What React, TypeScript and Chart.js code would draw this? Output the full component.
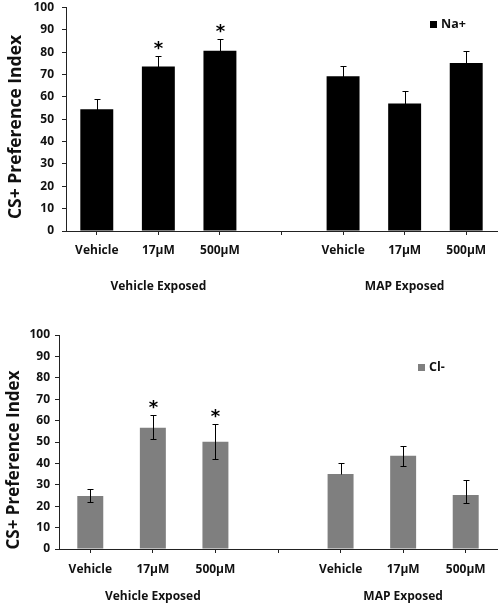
import React, { useEffect, useRef } from "react";
import { Chart, registerables } from "chart.js";

Chart.register(...registerables);

// ---- data ----
const categories = ["Vehicle", "17μM", "500μM", "", "Vehicle", "17μM", "500μM"];
const groupLabels = ["Vehicle Exposed", "MAP Exposed"];
const groupCenterIndex = [1, 5];
const yTicks = [0, 10, 20, 30, 40, 50, 60, 70, 80, 90, 100];
const yTitle = "CS+ Preference Index";

const naLabel = "Na+";
const naValues = [54.5, 73.6, 80.7, null, 69.2, 57.0, 75.2];
const naErrorsUp = [4.5, 4.5, 5.0, null, 4.5, 5.7, 5.3];
const naErrorsDown = [4.5, 4.5, 5.0, null, 4.5, 5.7, 5.3];
const naSignificant = [false, true, true, false, false, false, false];

const clLabel = "Cl-";
const clValues = [24.8, 56.7, 50.1, null, 35.0, 43.6, 25.2];
const clErrorsUp = [3.1, 5.8, 8.4, null, 5.3, 4.4, 7.0];
const clErrorsDown = [2.7, 5.5, 8.1, null, 0, 4.8, 3.7];
const clSignificant = [false, true, true, false, false, false, false];

const FONT = "'Open Sans', Lato, sans-serif";

const overlayPlugin = {
  id: "overlay",
  afterDatasetsDraw(chart: any, _a: any, opts: any) {
    const ctx = chart.ctx;
    const y = chart.scales.y;
    const meta = chart.getDatasetMeta(0);
    const ds = chart.data.datasets[0];
    ctx.save();
    ctx.strokeStyle = "#000";
    ctx.lineWidth = 1;
    opts.errorsUp.forEach((eu: number | null, i: number) => {
      const v = ds.data[i];
      const ed = opts.errorsDown[i];
      if (v == null || eu == null) return;
      const bar = meta.data[i];
      const cx = Math.round(bar.x) + 0.5;
      const yt = Math.round(y.getPixelForValue(v + eu)) + 0.5;
      const yb = Math.round(y.getPixelForValue(v - (ed || 0))) + 0.5;
      ctx.beginPath();
      ctx.moveTo(cx, yt);
      ctx.lineTo(cx, yb);
      ctx.moveTo(cx - 3, yt);
      ctx.lineTo(cx + 3, yt);
      if (ed) {
        ctx.moveTo(cx - 3, yb);
        ctx.lineTo(cx + 3, yb);
      }
      ctx.stroke();
      if (opts.significant[i]) {
        ctx.fillStyle = "#000";
        ctx.font = `bold 18px 'DejaVu Sans'`;
        ctx.textAlign = "center";
        ctx.textBaseline = "alphabetic";
        const m = ctx.measureText("*");
        const asc = m.actualBoundingBoxAscent;
        const desc = m.actualBoundingBoxDescent;
        const centerY = yt - 11;
        ctx.fillText("*", cx, centerY + (asc - desc) / 2);
      }
    });
    ctx.restore();
  },
  afterDraw(chart: any, _a: any, opts: any) {
    const ctx = chart.ctx;
    const x = chart.scales.x;
    const area = chart.chartArea;
    ctx.save();
    ctx.fillStyle = "#111";
    // group labels
    ctx.font = `bold 12px ${FONT}`;
    ctx.textAlign = "center";
    ctx.textBaseline = "middle";
    groupLabels.forEach((g, i) => {
      ctx.fillText(g, x.getPixelForValue(groupCenterIndex[i]), area.bottom + opts.groupOffset);
    });
    // y title
    ctx.save();
    ctx.translate(opts.titleX, opts.titleY);
    ctx.rotate(-Math.PI / 2);
    ctx.font = `bold ${opts.titleSize}px ${FONT}`;
    ctx.textAlign = "center";
    ctx.textBaseline = "middle";
    ctx.fillText(yTitle, 0, 0);
    ctx.restore();
    // legend
    const ds = chart.data.datasets[0];
    ctx.fillStyle = ds.backgroundColor;
    ctx.fillRect(opts.legendX, opts.legendY - 3.5, 7, 7);
    ctx.fillStyle = "#111";
    ctx.font = `bold 12.5px ${FONT}`;
    ctx.textAlign = "left";
    ctx.textBaseline = "middle";
    ctx.fillText(ds.label, opts.legendX + 11, opts.legendY);
    ctx.restore();
  },
};

function makeConfig(p: {
  label: string;
  values: (number | null)[];
  errorsUp: (number | null)[];
  errorsDown: (number | null)[];
  significant: boolean[];
  color: string;
  barPct: number;
  yWidth: number;
  xHeight: number;
  padTop: number;
  yTickPad: number;
  xTickPad: number;
  overlay: any;
}): any {
  return {
    type: "bar",
    data: {
      labels: categories,
      datasets: [
        {
          label: p.label,
          data: p.values,
          backgroundColor: p.color,
          borderWidth: 0,
          barPercentage: p.barPct,
          categoryPercentage: 1,
        },
      ],
    },
    options: {
      responsive: false,
      animation: false,
      layout: { padding: { top: p.padTop, right: 3, left: 0, bottom: 0 } },
      plugins: {
        legend: { display: false },
        tooltip: { enabled: false },
        overlay: {
          errorsUp: p.errorsUp,
          errorsDown: p.errorsDown,
          significant: p.significant,
          ...p.overlay,
        },
      },
      scales: {
        x: {
          type: "category",
          grid: {
            display: true,
            drawOnChartArea: false,
            offset: false,
            tickLength: 4,
            color: "#222",
          },
          border: { display: true, color: "#222", width: 1 },
          ticks: {
            color: "#111",
            font: { family: FONT, weight: "bold", size: 12 },
            padding: p.xTickPad,
            maxRotation: 0,
            autoSkip: false,
          },
          afterFit: (s: any) => {
            s.height = p.xHeight;
          },
        },
        y: {
          min: 0,
          max: 100,
          afterBuildTicks: (s: any) => {
            s.ticks = yTicks.map((v) => ({ value: v }));
          },
          grid: {
            display: true,
            drawOnChartArea: false,
            tickLength: 4,
            color: "#222",
          },
          border: { display: true, color: "#222", width: 1 },
          ticks: {
            color: "#111",
            font: { family: FONT, weight: "bold", size: 12 },
            padding: p.yTickPad,
          },
          afterFit: (s: any) => {
            s.width = p.yWidth;
            s.paddingTop = 0;
            s.paddingBottom = 0;
          },
        },
      },
    },
    plugins: [overlayPlugin],
  };
}

function BarPanel({ config, height }: { config: any; height: number }) {
  const ref = useRef<HTMLCanvasElement | null>(null);
  useEffect(() => {
    if (!ref.current) return;
    const chart = new Chart(ref.current, config);
    return () => chart.destroy();
  }, [config]);
  return <canvas ref={ref} width={500} height={height} style={{ display: "block", width: 500, height }} />;
}

const topConfig = makeConfig({
  label: naLabel,
  values: naValues,
  errorsUp: naErrorsUp,
  errorsDown: naErrorsDown,
  significant: naSignificant,
  color: "#000000",
  barPct: 0.535,
  yWidth: 66,
  xHeight: 74,
  padTop: 7.5,
  yTickPad: 8,
  xTickPad: 8,
  overlay: { groupOffset: 56, titleX: 16, titleY: 127, titleSize: 17.5, legendX: 430, legendY: 24.5 },
});

const bottomConfig = makeConfig({
  label: clLabel,
  values: clValues,
  errorsUp: clErrorsUp,
  errorsDown: clErrorsDown,
  significant: clSignificant,
  color: "#7f7f7f",
  barPct: 0.415,
  yWidth: 59,
  xHeight: 62,
  padTop: 30,
  yTickPad: 5,
  xTickPad: 9,
  overlay: { groupOffset: 48, titleX: 14.5, titleY: 155, titleSize: 17, legendX: 418, legendY: 62.5 },
});

export default function App() {
  return (
    <div style={{ position: "absolute", top: 0, left: 0, width: 500, height: 611, background: "#fff" }}>
      <BarPanel config={topConfig} height={305} />
      <BarPanel config={bottomConfig} height={306} />
    </div>
  );
}
